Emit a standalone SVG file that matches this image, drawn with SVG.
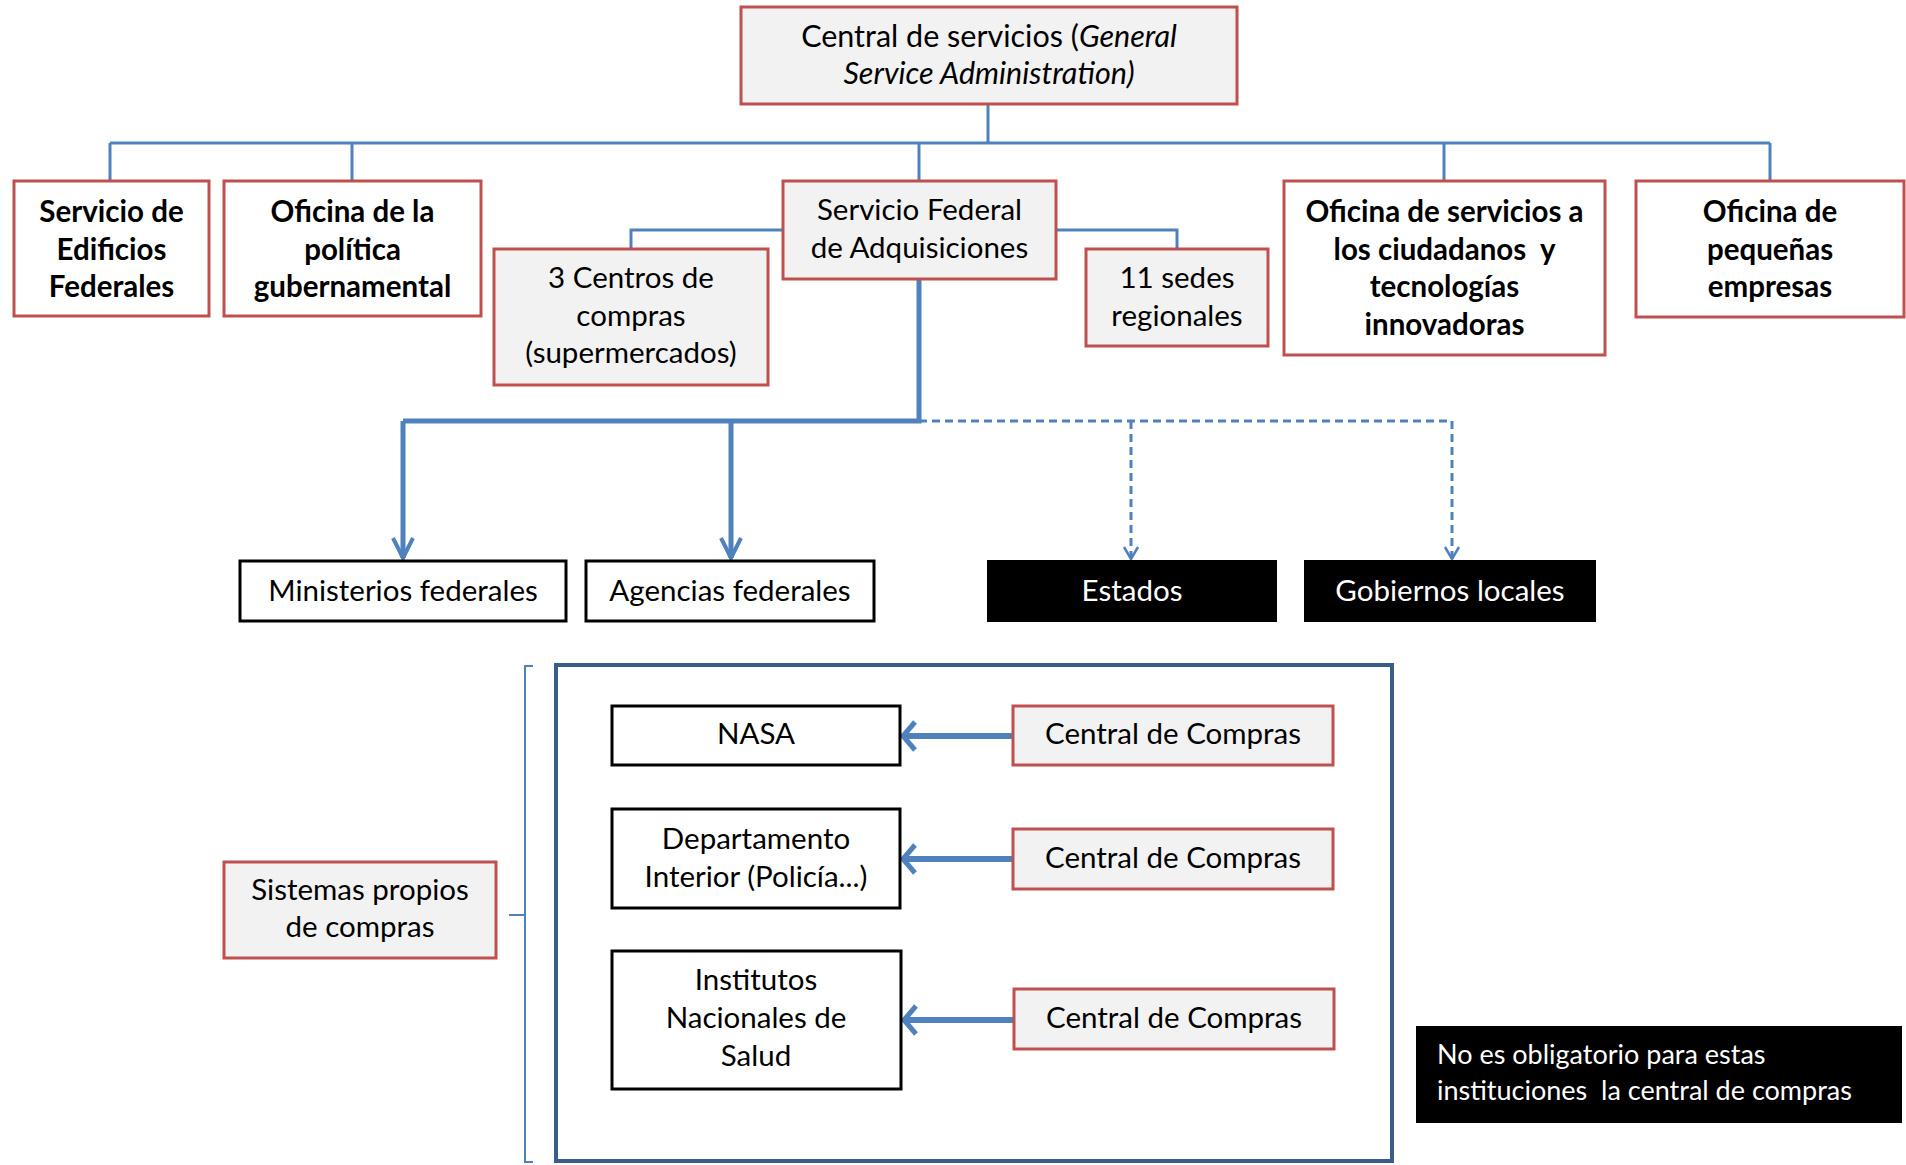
<svg xmlns="http://www.w3.org/2000/svg" width="1906" height="1165" viewBox="0 0 1906 1165">
<style>
text{font-family:Lato,"Open Sans","Liberation Sans",sans-serif;font-size:29.5px;fill:#000;text-anchor:middle}
.b{font-weight:bold}
.w{fill:#fff}
.s{text-anchor:start;font-size:27px}
.t{font-size:30.5px}
.rg{fill:#f2f2f2;stroke:#c0504d;stroke-width:3}
.rw{fill:#fff;stroke:#c0504d;stroke-width:3}
.bk{fill:#fff;stroke:#000;stroke-width:3}
.bl{fill:#000;stroke:#000;stroke-width:2}
.c{fill:none;stroke:#4f81bd;stroke-width:3}
.ct{fill:none;stroke:#4f81bd;stroke-width:5}
.cd{fill:none;stroke:#4f81bd;stroke-width:3;stroke-dasharray:8 5}
.ca{fill:none;stroke:#4f81bd;stroke-width:6}
</style>
<defs>
<marker id="vt" markerUnits="userSpaceOnUse" markerWidth="30" markerHeight="30" viewBox="0 0 30 30" refX="26" refY="15" orient="auto">
<path d="M6,5 L26,15 L6,25" fill="none" stroke="#4f81bd" stroke-width="4"/>
</marker>
<marker id="vd" markerUnits="userSpaceOnUse" markerWidth="24" markerHeight="24" viewBox="0 0 24 24" refX="20" refY="12" orient="auto">
<path d="M8,5 L20,12 L8,19" fill="none" stroke="#4f81bd" stroke-width="2.5"/>
</marker>
<marker id="vl" markerUnits="userSpaceOnUse" markerWidth="40" markerHeight="40" viewBox="0 0 40 40" refX="34" refY="20" orient="auto">
<path d="M22,6 L34,20 L22,34" fill="none" stroke="#4f81bd" stroke-width="5"/>
</marker>
</defs>

<g id="connectors">
<path class="c" d="M988,104 V143 M110,143 H1770 M110,143 V181 M352,143 V181 M919,143 V181 M1444,143 V181 M1770,143 V181"/>
<path class="c" d="M783,230 H631 V249 M1056,230 H1177 V249"/>
<path class="ct" d="M919,279 V421 H403"/>
<path class="ct" d="M403,421 V558" marker-end="url(#vt)"/>
<path class="ct" d="M731,421 V558" marker-end="url(#vt)"/>
<path class="cd" d="M919,421 H1452"/>
<path class="cd" d="M1131,421 V559" marker-end="url(#vd)"/>
<path class="cd" d="M1452,421 V559" marker-end="url(#vd)"/>
<path class="ca" d="M1013,736 H903" marker-end="url(#vl)"/>
<path class="ca" d="M1013,859 H903" marker-end="url(#vl)"/>
<path class="ca" d="M1014,1020 H904" marker-end="url(#vl)"/>
<path d="M533,666 H525 V1162 H533 M525,915 H509" fill="none" stroke="#4f81bd" stroke-width="2"/>
</g>

<g id="gsa">
<rect class="rg" x="741" y="7" width="496" height="97"/>
<text class="t" x="989" y="47">Central de servicios (<tspan font-style="italic">General</tspan></text>
<text class="t" x="989" y="84" font-style="italic">Service Administration)</text>
</g>
<g id="edificios">
<rect class="rw" x="14" y="181" width="195" height="135"/>
<text class="b" x="111.5" y="222">Servicio de</text>
<text class="b" x="111.5" y="260">Edificios</text>
<text class="b" x="111.5" y="297">Federales</text>
</g>
<g id="politica">
<rect class="rw" x="224" y="181" width="257" height="135"/>
<text class="b" x="352.5" y="222">Oficina de la</text>
<text class="b" x="352.5" y="260">política</text>
<text class="b" x="352.5" y="297">gubernamental</text>
</g>
<g id="sfa">
<rect class="rg" x="783" y="181" width="273" height="98"/>
<text x="919.5" y="220">Servicio Federal</text>
<text x="919.5" y="258">de Adquisiciones</text>
</g>
<g id="centros">
<rect class="rg" x="494" y="249" width="274" height="136"/>
<text x="631" y="288">3 Centros de</text>
<text x="631" y="326">compras</text>
<text x="631" y="363">(supermercados)</text>
</g>
<g id="sedes">
<rect class="rg" x="1086" y="249" width="182" height="97"/>
<text x="1177" y="288">11 sedes</text>
<text x="1177" y="326">regionales</text>
</g>
<g id="ciudadanos">
<rect class="rw" x="1284" y="181" width="321" height="174"/>
<text class="b" x="1444.5" y="222">Oficina de servicios a</text>
<text class="b" x="1444.5" y="260" xml:space="preserve">los ciudadanos  y</text>
<text class="b" x="1444.5" y="297">tecnologías</text>
<text class="b" x="1444.5" y="335">innovadoras</text>
</g>
<g id="pequenas">
<rect class="rw" x="1636" y="181" width="268" height="136"/>
<text class="b" x="1770" y="222">Oficina de</text>
<text class="b" x="1770" y="260">pequeñas</text>
<text class="b" x="1770" y="297">empresas</text>
</g>
<g id="ministerios">
<rect class="bk" x="240" y="561" width="326" height="60"/>
<text x="403" y="601">Ministerios federales</text>
</g>
<g id="agencias">
<rect class="bk" x="586" y="561" width="288" height="60"/>
<text x="730" y="601">Agencias federales</text>
</g>
<g id="estados">
<rect class="bl" x="988" y="561" width="288" height="60"/>
<text class="w" x="1132" y="601">Estados</text>
</g>
<g id="gobiernos">
<rect class="bl" x="1305" y="561" width="290" height="60"/>
<text class="w" x="1450" y="601">Gobiernos locales</text>
</g>
<g id="marco">
<rect x="556" y="665" width="836" height="496" fill="none" stroke="#385d8a" stroke-width="4"/>
</g>
<g id="nasa">
<rect class="bk" x="612" y="706" width="288" height="59"/>
<text x="756" y="744">NASA</text>
</g>
<g id="cc1">
<rect class="rg" x="1013" y="706" width="320" height="59"/>
<text x="1173" y="744">Central de Compras</text>
</g>
<g id="interior">
<rect class="bk" x="612" y="809" width="288" height="99"/>
<text x="756" y="849">Departamento</text>
<text x="756" y="887">Interior (Policía...)</text>
</g>
<g id="cc2">
<rect class="rg" x="1013" y="829" width="320" height="60"/>
<text x="1173" y="868">Central de Compras</text>
</g>
<g id="sistemas">
<rect class="rg" x="224" y="862" width="272" height="96"/>
<text x="360" y="900">Sistemas propios</text>
<text x="360" y="937">de compras</text>
</g>
<g id="institutos">
<rect class="bk" x="612" y="951" width="289" height="138"/>
<text x="756" y="990">Institutos</text>
<text x="756" y="1028">Nacionales de</text>
<text x="756" y="1066">Salud</text>
</g>
<g id="cc3">
<rect class="rg" x="1014" y="989" width="320" height="60"/>
<text x="1174" y="1028">Central de Compras</text>
</g>
<g id="nota">
<rect class="bl" x="1417" y="1027" width="484" height="95"/>
<text class="w s" x="1437" y="1064">No es obligatorio para estas</text>
<text class="w s" x="1437" y="1100" xml:space="preserve">instituciones  la central de compras</text>
</g>
</svg>
